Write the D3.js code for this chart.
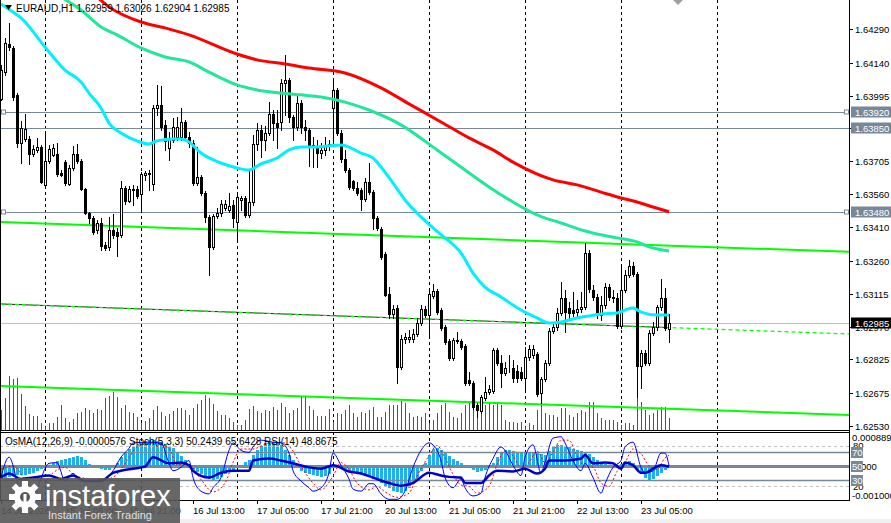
<!DOCTYPE html>
<html>
<head>
<meta charset="utf-8">
<script src="https://cdn.jsdelivr.net/npm/d3@7"></script>
<style>
  body { margin: 0; background: #fff; overflow: hidden; }
  svg { display: block; font-family: "Liberation Sans", Arial, sans-serif; }
</style>
</head>
<body>
<script>
// EURAUD H1 bars, prices in points (1e-5)
const opens = [
  163980,164099,164224,164206,163997,163785,163802,163802,163736,163754,
  163767,163599,163705,163731,163736,163652,163700,163603,163674,163736,
  163705,163581,163474,163452,163399,163430,163332,163324,163399,163390,
  163377,163585,163528,163581,163581,163559,163643,163652,163603,163940,
  163953,163865,163762,163798,163811,163811,163878,163811,163785,163607,
  163634,163563,163456,163324,163461,163474,163496,163488,163510,163434,
  163532,163541,163465,163523,163781,163842,163798,163829,163913,163873,
  163878,164051,164064,163900,163856,163962,163856,163842,163776,163767,
  163740,163754,163772,163940,164020,163829,163714,163665,163616,163585,
  163576,163536,163612,163568,163452,163403,163293,163115,163027,163053,
  162792,162916,162916,162916,162938,162987,163049,163022,163106,163129,
  163044,162969,162907,162831,162911,162907,162885,162734,162721,162623,
  162596,162654,162681,162685,162867,162809,162765,162787,162787,162774,
  162769,162743,162836,162845,162849,162676,162738,162809,162951,162969,
  163031,163098,163053,163044,163035,163049,163058,163297,163133,163102,
  163022,163066,163146,163102,163098,162973,163133,163199,163239,163204,
  162796,162854,162809,162942,162969,163058,163098,162959
];
const highs = [
  164130,164250,164317,164215,164006,163882,163913,163816,163776,163807,
  163776,163838,163776,163781,163785,163665,163709,163687,163772,163781,
  163714,163585,163479,163461,163443,163452,163346,163456,163470,163408,
  163616,163594,163594,163599,163594,163656,163661,163665,163953,164042,
  164037,163887,163834,163895,163900,163940,163887,163834,163798,163767,
  163643,163572,163465,163470,163496,163532,163532,163563,163532,163568,
  163550,163550,163661,163820,163873,163865,163860,163967,163931,163931,
  164068,164175,164073,163909,163993,163975,163887,163851,163811,163798,
  163785,163811,163798,164073,164029,163842,163754,163674,163621,163612,
  163585,163630,163696,163576,163461,163412,163302,163146,163066,163066,
  162933,162942,162956,162960,163009,163066,163062,163133,163160,163137,
  163053,162978,162916,162920,162947,162916,162894,162769,162730,162632,
  162667,162747,162712,162876,162876,162845,162814,162845,162823,162800,
  162792,162880,162889,162889,162858,162747,162823,162965,162987,163053,
  163168,163133,163080,163124,163089,163124,163341,163310,163155,163115,
  163106,163164,163160,163133,163120,163244,163222,163266,163257,163213,
  162867,162867,162956,162991,163066,163182,163142,163026
];
const lows = [
  163975,164086,164197,163975,163767,163696,163794,163692,163727,163745,
  163607,163594,163696,163727,163639,163639,163599,163599,163665,163696,
  163576,163470,163430,163381,163386,163310,163310,163310,163364,163284,
  163368,163514,163523,163510,163541,163479,163621,163576,163576,163909,
  163842,163754,163709,163789,163798,163798,163798,163767,163599,163599,
  163554,163434,163199,163315,163452,163461,163488,163479,163412,163346,
  163488,163456,163456,163510,163754,163723,163754,163820,163798,163762,
  163842,163909,163878,163798,163842,163829,163798,163683,163678,163678,
  163718,163731,163754,163772,163820,163700,163656,163581,163576,163554,
  163488,163528,163559,163403,163399,163270,163106,163009,163009,162721,
  162783,162898,162902,162902,162929,162978,163013,162920,163097,163027,
  162956,162894,162823,162823,162898,162871,162712,162712,162605,162570,
  162588,162645,162672,162676,162800,162703,162756,162769,162725,162725,
  162734,162681,162823,162831,162663,162632,162730,162800,162942,162956,
  163022,162947,163000,163018,163018,163035,163049,163124,163089,163009,
  163000,163053,163089,163080,162965,162965,163124,163191,163195,162659,
  162699,162800,162800,162933,162956,163044,162956,162904
];
const closes = [
  164108,164228,164210,163989,163785,163851,163847,163736,163758,163767,
  163612,163705,163758,163762,163647,163643,163607,163674,163736,163705,
  163581,163474,163452,163390,163430,163328,163319,163399,163377,163373,
  163585,163528,163581,163576,163550,163647,163652,163647,163940,163953,
  163856,163794,163807,163856,163856,163878,163811,163785,163607,163634,
  163563,163456,163324,163461,163474,163514,163514,163505,163452,163545,
  163541,163465,163523,163781,163842,163798,163829,163913,163873,163856,
  164051,164064,163900,163856,163962,163856,163842,163776,163767,163740,
  163754,163772,163781,164020,163829,163714,163665,163590,163585,163563,
  163536,163612,163568,163452,163408,163279,163110,163027,163049,162792,
  162916,162925,162925,162938,162987,163049,163022,163115,163129,163035,
  162965,162902,162831,162911,162907,162880,162721,162721,162614,162601,
  162659,162681,162694,162867,162809,162765,162787,162785,162743,162743,
  162743,162836,162871,162871,162672,162738,162809,162951,162969,163031,
  163098,163035,163031,163031,163049,163058,163297,163137,163102,163035,
  163066,163146,163102,163098,162973,163133,163199,163239,163204,162796,
  162854,162809,162942,162969,163058,163098,162965,162985
];
// tick volumes
const volumes = [
  840,1320,2200,2080,2120,1480,1000,680,600,600,
  320,160,320,320,560,1040,520,360,480,720,
  760,920,840,720,880,840,1320,1400,1560,1360,
  920,1040,760,720,560,320,400,520,840,1000,
  760,600,680,800,920,920,840,640,920,1080,
  1240,1440,1320,1080,800,640,640,520,360,240,
  240,440,880,1000,800,720,840,800,960,840,
  1120,960,720,840,920,1400,1400,1000,840,600,
  600,600,880,360,720,680,840,1040,720,560,
  760,720,840,960,560,560,760,1040,1040,1040,
  1200,1120,720,560,600,560,720,320,440,720,
  1040,1120,760,560,520,720,1040,1120,1160,1040,
  760,1040,1120,1040,1160,1040,440,360,360,320,
  360,160,320,240,840,1040,720,640,640,560,
  920,920,640,560,720,840,760,1160,1160,720,
  520,440,440,440,360,240,320,320,240,1320,
  1160,840,640,720,840,960,960,520
];
// OsMA(12,26,9) histogram, in 1e-6
const osma = [
  -334,-361,-334,-306,-278,-278,-278,-250,-222,-167,
  -111,-56,10,56,111,139,167,195,222,250,
  222,139,28,-56,-83,-111,-139,-139,-83,56,
  222,361,445,500,556,612,667,695,695,667,
  639,584,528,473,361,250,139,28,-111,-195,
  -250,-334,-389,-417,-389,-334,-250,-195,-139,-83,
  -10,83,139,278,417,528,612,639,639,612,
  556,417,278,139,-28,-167,-222,-250,-278,-306,
  -334,-306,-250,-83,-56,-83,-111,-139,-195,-222,
  -250,-278,-334,-389,-445,-500,-584,-639,-723,-751,
  -778,-723,-639,-528,-389,-167,56,278,445,473,
  417,334,250,167,111,56,-28,-83,-139,-195,
  -167,-139,-83,56,222,334,417,417,389,361,
  361,334,334,334,334,306,278,389,500,556,
  556,528,500,445,417,389,361,306,222,139,
  56,28,10,-10,-28,28,83,111,56,-139,
  -250,-361,-417,-389,-306,-222,-139,-58
];

// moving averages [bar, points]
const maFast = [[0,164401],[3,164365],[5,164339],[11,164210],[16,164108],[20,164055],[22,164006],[25,163940],[27,163873],[30,163829],[34,163794],[37,163780],[39,163794],[43,163802],[45,163802],[47,163789],[50,163740],[55,163696],[59,163674],[62,163665],[65,163692],[69,163718],[72,163754],[75,163767],[79,163767],[82,163772],[85,163776],[90,163740],[93,163718],[95,163678],[98,163607],[101,163532],[105,163457],[108,163408],[111,163364],[115,163297],[118,163208],[121,163146],[125,163102],[128,163066],[130,163044],[134,163009],[137,162987],[140,162991],[144,163009],[147,163018],[150,163027],[154,163031],[156,163044],[158,163053],[160,163035],[164,163022],[167,163022]];
const maMid = [[15,164432],[20,164374],[25,164299],[29,164264],[35,164206],[41,164166],[47,164144],[52,164099],[59,164042],[64,164020],[70,164006],[75,163998],[80,163989],[86,163966],[92,163931],[100,163865],[109,163754],[116,163665],[122,163590],[128,163523],[134,163466],[140,163430],[147,163390],[154,163364],[159,163346],[162,163324],[167,163306]];
const maSlow = [[24,164432],[27,164388],[35,164321],[41,164295],[47,164264],[59,164179],[64,164153],[71,164135],[77,164117],[86,164095],[95,164029],[102,163958],[110,163878],[117,163807],[123,163754],[128,163700],[138,163621],[144,163599],[150,163567],[155,163541],[159,163523],[163,163501],[167,163480]];

// channel lines [bar, price]
const chanTop = [[0,1.63434],[212,1.63302]];
const chanMid = [[0,1.63071],[212,1.62938]];
const chanLow = [[0,1.62707],[212,1.62579]];
const levels = [1.63920, 1.63850, 1.63480];
const levelMarked = [true, false, true];

const priceTicks = [1.64290,1.64140,1.63995,1.63850,1.63705,1.63560,1.63410,1.63260,1.63115,1.62970,1.62825,1.62675,1.62530];
const timeLabels = [[0,"14 Jul 2026"],[16,"15 Jul 05:00"],[32,"15 Jul 21:00"],[48,"16 Jul 13:00"],[64,"17 Jul 05:00"],[80,"17 Jul 21:00"],[96,"20 Jul 13:00"],[112,"21 Jul 05:00"],[128,"21 Jul 21:00"],[144,"22 Jul 13:00"],[160,"23 Jul 05:00"]];
const daySeparators = [11,35,59,83,107,131,155,179];

// Stochastic(5,3,3) main / signal and RSI(14) [bar, value]
const stochMain = [[0,33],[2,63],[5,13],[8,9],[12,54],[14,55],[16,28],[18,39],[20,28],[25,28],[28,43],[30,63],[32,76],[33,84],[37,85],[40,84],[42,54],[43,43],[45,48],[47,58],[48,33],[50,13],[52,9],[53,18],[55,33],[57,73],[58,84],[60,73],[62,70],[63,78],[65,88],[68,85],[70,84],[72,69],[73,43],[75,28],[77,18],[78,13],[80,18],[82,40],[83,69],[85,51],[87,31],[88,16],[90,13],[92,24],[93,24],[95,9],[97,1],[99,1],[101,13],[103,48],[105,73],[107,84],[108,81],[110,58],[111,33],[113,18],[115,31],[116,18],[118,6],[120,10],[121,33],[123,61],[125,78],[126,73],[128,51],[130,36],[131,63],[133,81],[135,40],[136,55],[138,91],[140,93],[141,84],[143,58],[145,43],[146,54],[148,33],[150,10],[151,24],[153,48],[155,58],[156,78],[158,85],[160,48],[161,40],[163,43],[165,69],[166,69],[167,50.2439]];
const stochSignal = [[0,45],[3,50],[6,30],[9,12],[13,40],[16,48],[18,38],[21,32],[26,30],[29,38],[32,62],[34,78],[38,84],[42,76],[44,52],[47,52],[50,30],[53,12],[56,25],[58,55],[60,75],[63,75],[66,82],[70,85],[73,72],[75,50],[78,25],[80,15],[83,35],[85,55],[87,45],[89,25],[92,15],[94,20],[96,12],[99,4],[102,10],[104,35],[107,65],[109,80],[111,62],[113,38],[115,22],[117,20],[119,10],[122,20],[124,52],[126,72],[128,65],[130,48],[132,55],[134,72],[136,55],[138,70],[140,88],[142,88],[144,65],[146,50],[148,48],[150,25],[152,20],[154,42],[156,55],[158,75],[160,68],[162,50],[164,45],[166,62],[167,65.6428]];
const rsi = [[0,33],[2,39],[5,31],[8,33],[12,36],[15,31],[18,36],[21,28],[25,28],[28,40],[30,43],[33,46],[36,49],[38,63],[42,54],[45,55],[47,51],[48,43],[52,33],[55,40],[58,43],[62,43],[63,58],[67,61],[70,58],[73,54],[77,48],[80,46],[83,51],[87,42],[90,39],[93,33],[97,25],[100,21],[103,25],[107,40],[110,36],[112,34],[115,33],[116,25],[120,25],[122,36],[124,43],[128,42],[131,46],[134,39],[136,46],[137,58],[141,58],[145,61],[146,66],[148,54],[151,55],[153,54],[155,46],[156,55],[158,51],[160,40],[161,40],[163,46],[165,51],[167,48.8675]];
const stochLevels = [80, 70, 50, 30, 20];

const W = 891, H = 523;
const plotR = 849, mainB = 430, indT = 433, indB = 500;

const bars = opens.map((o, i) => ({
  i, o: o / 1e5, h: highs[i] / 1e5, l: lows[i] / 1e5, c: closes[i] / 1e5,
  v: volumes[i], osma: osma[i] / 1e6
}));
const last = bars[bars.length - 1];

const x = d3.scaleLinear().domain([0, 212]).range([1, 849]);
const y = d3.scaleLinear().domain([1.6253, 1.6429]).range([426, 29]);
const yVol = d3.scaleLinear().domain([0, 2400]).range([431, 371]);
const yOs = d3.scaleLinear().domain([-0.001, 0.000889]).range([501, 433]);
const ySt = d3.scaleLinear().domain([0, 100]).range([500, 432]);
const px = (i) => Math.round(x(i)) + 0.5;
const fmt = d3.format(".5f");

const svg = d3.select("body").append("svg").attr("width", W).attr("height", H);
svg.append("rect").attr("width", W).attr("height", H).attr("fill", "#fff");

const defs = svg.append("defs");
defs.append("clipPath").attr("id", "clipMain")
  .append("rect").attr("x", 0).attr("y", 0).attr("width", plotR).attr("height", mainB);
defs.append("clipPath").attr("id", "clipBars")
  .append("rect").attr("x", 0).attr("y", 0).attr("width", px(last.i)).attr("height", mainB);
defs.append("clipPath").attr("id", "clipInd")
  .append("rect").attr("x", 0).attr("y", indT).attr("width", plotR).attr("height", indB - indT);

// day separators
svg.append("g").selectAll("line").data(daySeparators).join("line")
  .attr("x1", (d) => px(d)).attr("x2", (d) => px(d))
  .attr("y1", 0).attr("y2", indB)
  .attr("stroke", "#000").attr("stroke-dasharray", "3,3");

const main = svg.append("g").attr("clip-path", "url(#clipMain)");

// volumes
main.append("g").selectAll("line").data(bars).join("line")
  .attr("x1", (d) => px(d.i)).attr("x2", (d) => px(d.i))
  .attr("y1", yVol(0)).attr("y2", (d) => yVol(d.v))
  .attr("stroke", "#1f7a1f").attr("stroke-width", 1);

// horizontal levels
main.append("g").selectAll("line").data(levels).join("line")
  .attr("x1", 0).attr("x2", plotR)
  .attr("y1", (d) => Math.round(y(d)) + 0.5).attr("y2", (d) => Math.round(y(d)) + 0.5)
  .attr("stroke", "#778899").attr("stroke-width", 1);
main.append("line")
  .attr("x1", 0).attr("x2", plotR)
  .attr("y1", Math.round(y(last.c)) + 0.5).attr("y2", Math.round(y(last.c)) + 0.5)
  .attr("stroke", "#c0c0c0");

// channel
const chanLine = d3.line().x((d) => x(d[0])).y((d) => y(d[1]));
[chanTop, chanLow].forEach((c) => {
  main.append("path").attr("d", chanLine(c)).attr("fill", "none")
    .attr("stroke", "#00ff00").attr("stroke-width", 2);
});
main.append("path").attr("d", chanLine(chanMid)).attr("fill", "none")
  .attr("stroke", "#222").attr("stroke-width", 1)
  .attr("clip-path", "url(#clipBars)");
main.append("path").attr("d", chanLine(chanMid)).attr("fill", "none")
  .attr("stroke", "#00ff00").attr("stroke-width", 1.2).attr("stroke-dasharray", "4,3");

// candles
const candle = main.append("g").selectAll("g").data(bars).join("g");
candle.append("line")
  .attr("x1", (d) => px(d.i)).attr("x2", (d) => px(d.i))
  .attr("y1", (d) => Math.round(y(d.h))).attr("y2", (d) => Math.round(y(d.l)) + 1)
  .attr("stroke", "#000");
candle.append("rect")
  .attr("x", (d) => px(d.i) - 1)
  .attr("y", (d) => Math.round(y(Math.max(d.o, d.c))) + 0.5)
  .attr("width", 2)
  .attr("height", (d) => Math.max(0, Math.round(y(Math.min(d.o, d.c))) - Math.round(y(Math.max(d.o, d.c)))))
  .attr("fill", (d) => (d.c >= d.o ? "#fff" : "#000"))
  .attr("stroke", "#000");

// moving averages
const maLine = d3.line().x((d) => x(d[0])).y((d) => y(d[1] / 1e5)).curve(d3.curveMonotoneX);
[[maSlow, "#ff0000"], [maMid, "#22e69a"], [maFast, "#00f0ff"]].forEach(([d, col]) => {
  main.append("path").attr("d", maLine(d)).attr("fill", "none")
    .attr("stroke", col).attr("stroke-width", 3);
});

// marker squares on levels
levels.forEach((lv, k) => {
  if (!levelMarked[k]) return;
  [1.5, 844.5].forEach((sx) => {
    svg.append("rect").attr("x", sx).attr("y", Math.round(y(lv)) - 2)
      .attr("width", 4).attr("height", 4)
      .attr("fill", "#fff").attr("stroke", "#778899");
  });
});

// indicator panel
const ind = svg.append("g").attr("clip-path", "url(#clipInd)");
ind.append("g").selectAll("rect").data(bars).join("rect")
  .attr("x", (d) => Math.round(x(d.i)) - 1)
  .attr("width", 3)
  .attr("y", (d) => Math.min(yOs(0), yOs(d.osma)))
  .attr("height", (d) => Math.abs(yOs(d.osma) - yOs(0)))
  .attr("fill", "#1eb0ee");

stochLevels.forEach((lv) => {
  const yy = Math.round(ySt(lv)) + 0.5;
  const dashed = lv === 80 || lv === 20;
  ind.append("line").attr("x1", 0).attr("x2", plotR).attr("y1", yy).attr("y2", yy)
    .attr("stroke", dashed ? "#c0c0c0" : "#778899")
    .attr("stroke-width", lv === 50 ? 3 : dashed ? 1 : 1.5)
    .attr("stroke-dasharray", dashed ? "3,3" : null);
});

const stLine = d3.line().x((d) => x(d[0])).y((d) => ySt(d[1])).curve(d3.curveMonotoneX);
ind.append("path").attr("d", stLine(stochSignal)).attr("fill", "none")
  .attr("stroke", "#ff0000").attr("stroke-width", 1).attr("stroke-dasharray", "2,2");
ind.append("path").attr("d", stLine(stochMain)).attr("fill", "none")
  .attr("stroke", "#0000ff").attr("stroke-width", 1);
ind.append("path").attr("d", stLine(rsi)).attr("fill", "none")
  .attr("stroke", "#0000c8").attr("stroke-width", 2.5);

// frames
svg.append("line").attr("x1", plotR + 0.5).attr("x2", plotR + 0.5).attr("y1", 0).attr("y2", indB + 1).attr("stroke", "#000");
svg.append("line").attr("x1", 0.5).attr("x2", 0.5).attr("y1", 0).attr("y2", indB + 1).attr("stroke", "#000");
[mainB + 0.5, indT - 0.5, indB + 0.5].forEach((yy) => {
  svg.append("line").attr("x1", 0).attr("x2", plotR).attr("y1", yy).attr("y2", yy).attr("stroke", "#000");
});

// price axis
const axisG = svg.append("g").attr("font-size", 9.5).attr("fill", "#000");
priceTicks.forEach((t) => {
  const yy = Math.round(y(t)) + 0.5;
  axisG.append("line").attr("x1", plotR).attr("x2", plotR + 4).attr("y1", yy).attr("y2", yy).attr("stroke", "#000");
  axisG.append("text").attr("x", 855).attr("y", yy + 3.5).text(fmt(t));
});
function priceTag(p, bg) {
  const yy = Math.round(y(p));
  svg.append("rect").attr("x", 851).attr("y", yy - 5.5).attr("width", 40).attr("height", 11).attr("fill", bg);
  svg.append("text").attr("x", 855).attr("y", yy + 3.5).attr("font-size", 9.5).attr("fill", "#fff").text(fmt(p));
}
levels.forEach((lv) => priceTag(lv, "#778899"));
priceTag(last.c, "#000");

// indicator axis labels
const ia = svg.append("g").attr("font-size", 9.5).attr("fill", "#000");
ia.append("text").attr("x", 852).attr("y", 441).text("0.000889");
ia.append("text").attr("x", 853).attr("y", ySt(80) + 3).text("80");
ia.append("text").attr("x", 853).attr("y", ySt(50) + 3.5).text("0.000");
ia.append("text").attr("x", 853).attr("y", ySt(20) + 4).text("20");
ia.append("text").attr("x", 852).attr("y", 499).text("-0.001000");
[70, 50, 30].forEach((lv) => {
  const yy = Math.round(ySt(lv));
  svg.append("rect").attr("x", 851).attr("y", yy - 5).attr("width", 12).attr("height", 11).attr("fill", "#778899");
  svg.append("text").attr("x", 852).attr("y", yy + 4).attr("font-size", 9.5).attr("fill", "#fff").text(lv);
});

// time axis
const ta = svg.append("g").attr("font-size", 9.5).attr("fill", "#000");
timeLabels.forEach(([i, s]) => {
  ta.append("line").attr("x1", px(i)).attr("x2", px(i)).attr("y1", indB).attr("y2", indB + 4).attr("stroke", "#000");
  ta.append("text").attr("x", x(i)).attr("y", 514).text(s);
});
svg.append("rect").attr("x", 0).attr("y", 519).attr("width", W).attr("height", 4).attr("fill", "#f0f0f0");

// headers
svg.append("path").attr("d", "M5,5 L12,5 L8.5,10 Z").attr("fill", "#000");
svg.append("text").attr("x", 16).attr("y", 12).attr("font-size", 10)
  .text(`EURAUD,H1  ${fmt(last.o)} ${fmt(last.h)} ${fmt(last.l)} ${fmt(last.c)}`);
svg.append("text").attr("x", 5).attr("y", 445).attr("font-size", 10)
  .text("OsMA(12,26,9) -0.0000576  Stoch(5,3,3) 50.2439 65.6428  RSI(14) 48.8675");
svg.append("path").attr("d", "M673,0 L683,0 L678,5 Z").attr("fill", "#a0a0a0");

// logo
const logo = svg.append("g");
logo.append("rect").attr("x", 0).attr("y", 478).attr("width", 180).attr("height", 45)
  .attr("fill", "#575757").attr("opacity", 0.9);
const gear = logo.append("g").attr("transform", "translate(25,497)");
d3.range(8).forEach((k) => {
  gear.append("rect").attr("x", -3).attr("y", -16).attr("width", 6).attr("height", 7)
    .attr("fill", "#fff").attr("transform", `rotate(${k * 45})`);
});
gear.append("circle").attr("r", 11).attr("fill", "#fff");
gear.append("circle").attr("r", 5).attr("fill", "#575757");
gear.append("rect").attr("x", -1.5).attr("y", -3).attr("width", 3).attr("height", 14).attr("fill", "#fff");
logo.append("text").attr("x", 45).attr("y", 506).attr("font-size", 29).attr("fill", "#fff").text("instaforex");
logo.append("text").attr("x", 48).attr("y", 519).attr("font-size", 11).attr("fill", "#e0e0e0").text("Instant Forex Trading");
</script>
</body>
</html>
